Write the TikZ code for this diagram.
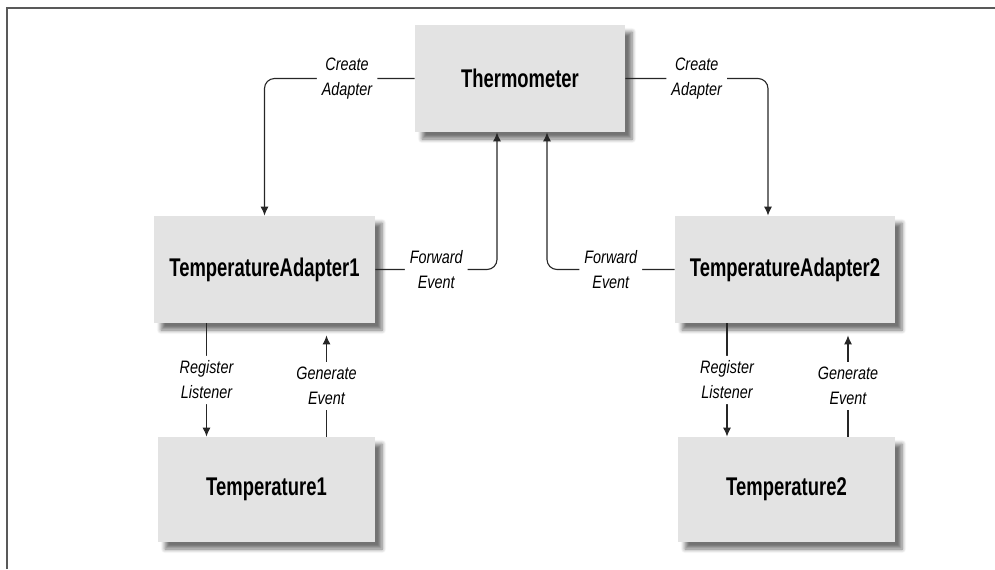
\documentclass[tikz,border=0pt]{standalone}
\usepackage{fontspec}
\setmainfont{Liberation Sans}[FakeStretch=0.8]
\newfontfamily\boxfont{Liberation Sans}[FakeStretch=0.72]
\usetikzlibrary{arrows.meta,shadows.blur}

\tikzset{
	box/.style={fill=black!11, minimum width=#1, minimum height=53.5pt,
		font=\boxfont\fontsize{12.8}{15}\selectfont\bfseries,
		blur shadow={shadow xshift=3.5pt, shadow yshift=-3.5pt, shadow blur steps=6, shadow opacity=55}},
	lbl/.style={fill=white, inner sep=2.5pt, align=center, font=\fontsize{9}{12.5}\selectfont\itshape},
	wire/.style={draw=black!85, line width=0.55pt, rounded corners=5pt, -{Latex[length=4.5pt,width=4pt]}},
}

\begin{document}
\begin{tikzpicture}[x=0.5pt,y=-0.5pt]
		%%%%% START %%%%%
		\useasboundingbox (0,0) rectangle (995,569);
		\draw[black!65, line width=1pt] (7,569) -- (7,8) -- (995,8);
		
		\node[box=105pt] (thermo) at (520,78.5) {Thermometer};
		\node[box=110.5pt] (ta1) at (264.5,269.5) {TemperatureAdapter1};
		\node[box=110pt] (ta2) at (785,269.5) {TemperatureAdapter2};
		\node[box=108.5pt, minimum height=52.5pt] (t1) at (266.5,489.5) {Temperature1};
		\node[box=108.5pt, minimum height=52.5pt] (t2) at (786.5,489.5) {Temperature2};
		
		% create adapters
		\coordinate (mk2) at ([xshift=-8.5pt]ta2.north);
		\draw[wire] (thermo.west) -- node[lbl, pos=0.45] {Create\\Adapter} (thermo.west -| ta1.north) -- (ta1.north);
		\draw[wire] (thermo.east) -- node[lbl] {Create\\Adapter} (thermo.east -| mk2) -- (mk2);
		
		% forward events
		\coordinate (in1) at ([xshift=-11.5pt]thermo.south);
		\coordinate (in2) at ([xshift=13.5pt]thermo.south);
		\draw[wire] (ta1.east) -- node[lbl] {Forward\\Event} (ta1.east -| in1) -- (in1);
		\draw[wire] (ta2.west) -- node[lbl] {Forward\\Event} (ta2.west -| in2) -- (in2);
		
		% listeners and events
		\coordinate (reg1) at ([xshift=-29pt]ta1.south);
		\coordinate (gen1) at ([xshift=31pt, yshift=-6pt]ta1.south);
		\coordinate (reg2) at ([xshift=-29pt]ta2.south);
		\coordinate (gen2) at ([xshift=31.5pt, yshift=-6pt]ta2.south);
		\draw[wire] (reg1) -- node[lbl] {Register\\Listener} (reg1 |- t1.north);
		\draw[wire] (gen1 |- t1.north) -- node[lbl] {Generate\\Event} (gen1);
		\draw[wire] (reg2) -- node[lbl] {Register\\Listener} (reg2 |- t2.north);
		\draw[wire] (gen2 |- t2.north) -- node[lbl] {Generate\\Event} (gen2);
		
		%%%%% END %%%%%
\end{tikzpicture}
\end{document}
